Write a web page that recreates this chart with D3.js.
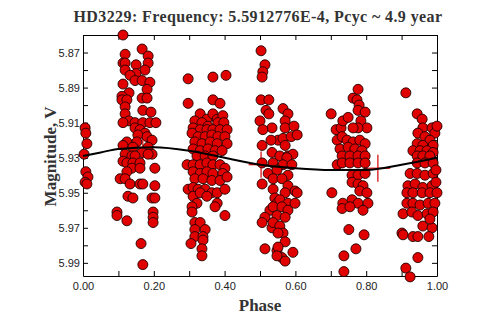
<!DOCTYPE html>
<html>
<head>
<meta charset="utf-8">
<script src="https://cdn.jsdelivr.net/npm/d3@7"></script>
<style>
	html, body { margin: 0; padding: 0; background: #fff; }
	svg { display: block; }
	.tick text { font-family: "Liberation Sans", Arial, sans-serif; font-size: 11px; fill: #222; }
	.domain, .tick line { stroke: #000; }
</style>
</head>
<body>
<script>
// phase-folded V photometry, grouped by the phase columns they fall in
var obsA = [[.006,5.913],[.008,5.916],[.011,5.922],[.003,5.928],[.008,5.938],[.014,5.941],[.006,5.944],[.011,5.945]];

var obsB = [[.113,5.860],[.119,5.871],[.113,5.876],[.119,5.876],[.119,5.880],[.150,5.877],[.167,5.868],[.184,5.872],
	[.184,5.876],[.175,5.880],[.150,5.882],[.133,5.883],[.147,5.886],[.167,5.886],[.189,5.887],[.113,5.888],[.181,5.891],
	[.130,5.893],[.110,5.895],[.110,5.897],[.124,5.897],[.167,5.896],[.181,5.896],[.119,5.901],[.119,5.905],[.169,5.903],
	[.192,5.904],[.130,5.909],[.113,5.910],[.147,5.910],[.169,5.910],[.189,5.910],[.206,5.910],[.147,5.913],[.161,5.914],
	[.175,5.916],[.155,5.917],[.181,5.918],[.124,5.921],[.152,5.921],[.195,5.920],[.113,5.923],[.141,5.924],[.184,5.924],
	[.167,5.927],[.119,5.928],[.138,5.929],[.195,5.928],[.147,5.929],[.184,5.928],[.113,5.932],[.124,5.933],[.141,5.933],
	[.161,5.933],[.138,5.936],[.161,5.936],[.124,5.938],[.105,5.942],[.119,5.942],[.133,5.945],[.161,5.945],[.169,5.945],
	[.203,5.936],[.203,5.946],[.127,5.952],[.141,5.953],[.195,5.953],[.203,5.953],[.096,5.961],[.096,5.963],[.124,5.966],
	[.198,5.961],[.198,5.964],[.198,5.967],[.164,5.979],[.169,5.991]];

var obsC = [[.297,5.885],[.297,5.899],[.367,5.884],[.404,5.883],[.367,5.897],[.387,5.899],[.331,5.905],[.350,5.908],
	[.367,5.905],[.379,5.908],[.395,5.906],[.316,5.909],[.336,5.910],[.353,5.912],[.381,5.910],[.398,5.910],[.311,5.913],
	[.331,5.914],[.350,5.914],[.367,5.914],[.387,5.914],[.407,5.914],[.308,5.916],[.325,5.918],[.345,5.918],[.364,5.917],
	[.381,5.918],[.401,5.918],[.316,5.921],[.336,5.922],[.359,5.921],[.379,5.922],[.407,5.922],[.311,5.925],[.331,5.926],
	[.353,5.925],[.373,5.926],[.393,5.926],[.322,5.929],[.345,5.929],[.367,5.929],[.294,5.934],[.311,5.934],[.331,5.934],
	[.350,5.933],[.367,5.934],[.387,5.934],[.401,5.936],[.311,5.938],[.331,5.939],[.350,5.938],[.367,5.939],[.395,5.939],
	[.316,5.942],[.339,5.942],[.364,5.943],[.387,5.943],[.407,5.941],[.297,5.948],[.311,5.947],[.325,5.948],[.345,5.948],
	[.364,5.950],[.379,5.950],[.401,5.948],[.311,5.952],[.331,5.950],[.350,5.952],[.322,5.956],[.308,5.958],[.308,5.961],
	[.379,5.956],[.373,5.958],[.401,5.963],[.316,5.967],[.331,5.967],[.316,5.971],[.345,5.971],[.316,5.975],[.339,5.975],
	[.339,5.977],[.305,5.979],[.336,5.982],[.336,5.986]];

var obsD = [[.503,5.869],[.514,5.877],[.508,5.881],[.506,5.884],[.503,5.897],[.525,5.897],[.517,5.903],[.525,5.905],
	[.500,5.909],[.534,5.913],[.508,5.914],[.551,5.920],[.531,5.920],[.506,5.923],[.534,5.927],[.565,5.902],[.579,5.905],
	[.571,5.909],[.571,5.913],[.596,5.912],[.565,5.919],[.588,5.918],[.605,5.917],[.571,5.923],[.556,5.929],[.579,5.929],
	[.593,5.928],[.506,5.933],[.537,5.933],[.523,5.939],[.506,5.945],[.537,5.948],[.542,5.953],[.548,5.956],[.528,5.960],
	[.514,5.964],[.506,5.967],[.534,5.970],[.514,5.982],[.548,5.983],[.576,5.930],[.565,5.934],[.590,5.934],[.548,5.937],
	[.579,5.940],[.537,5.942],[.562,5.942],[.579,5.946],[.599,5.949],[.571,5.950],[.605,5.950],[.556,5.954],[.579,5.956],
	[.599,5.956],[.537,5.958],[.562,5.958],[.579,5.960],[.548,5.963],[.571,5.964],[.537,5.967],[.556,5.969],[.565,5.973],
	[.551,5.973],[.571,5.978],[.551,5.981],[.593,5.984],[.562,5.987],[.571,5.989],[.548,5.986]];

var obsE = [[.701,5.905],[.715,5.914],[.729,5.913],[.734,5.909],[.749,5.907],[.777,5.891],[.763,5.896],[.774,5.897],
	[.780,5.900],[.777,5.903],[.797,5.904],[.785,5.909],[.802,5.913],[.777,5.913],[.763,5.913],[.718,5.920],[.732,5.918],
	[.746,5.920],[.763,5.921],[.782,5.920],[.797,5.922],[.726,5.925],[.749,5.924],[.768,5.925],[.788,5.926],[.732,5.929],
	[.754,5.929],[.777,5.929],[.797,5.929],[.718,5.934],[.732,5.933],[.754,5.933],[.777,5.933],[.797,5.933],[.760,5.940],
	[.777,5.940],[.797,5.939],[.760,5.944],[.777,5.945],[.791,5.946],[.782,5.949],[.802,5.950],[.734,5.956],[.760,5.954],
	[.777,5.956],[.805,5.956],[.732,5.959],[.754,5.958],[.791,5.960],[.703,5.950],[.751,5.971],[.794,5.974],[.771,5.982],
	[.737,5.986],[.737,5.995]];

var obsF = [[.912,5.893],[.944,5.905],[.958,5.908],[.960,5.913],[.986,5.913],[.946,5.916],[.966,5.918],[.994,5.916],
	[.980,5.920],[.944,5.922],[.960,5.923],[.989,5.923],[.932,5.926],[.952,5.926],[.972,5.926],[.989,5.927],[.944,5.929],
	[.960,5.929],[.980,5.929],[.944,5.933],[.966,5.933],[.989,5.933],[.924,5.939],[.944,5.939],[.966,5.940],[.989,5.939],
	[.918,5.946],[.938,5.945],[.960,5.947],[.986,5.946],[.915,5.950],[.932,5.950],[.958,5.950],[.980,5.950],[1.000,5.950],
	[.915,5.956],[.932,5.956],[.952,5.957],[.975,5.956],[.994,5.956],[.904,5.962],[.929,5.961],[.946,5.963],[.972,5.962],
	[.989,5.961],[.960,5.969],[.986,5.970],[.980,5.965],[.901,5.973],[.904,5.974],[.932,5.975],[.946,5.975],[.977,5.975],
	[.946,5.987],[.912,5.993],[.924,5.998],[1.000,5.912],[.997,5.937],[.997,5.944]];

// fitted cycle curve
var fitPhase = [0, 0.05, 0.1, 0.2, 0.3, 0.4, 0.5, 0.6, 0.7, 0.8, 0.9, 1.0];
var fitMag = [5.929, 5.927, 5.925, 5.924, 5.926, 5.930, 5.934, 5.936, 5.937, 5.937, 5.934, 5.930];

// binned means with errors
var binPhase = [0.169, 0.503, 0.833];
var binMag = [5.924, 5.934, 5.936];
var binErr = [0.0077, 0.0075, 0.0077];
var binHalf = [0.035, 0.035, 0.035];

var xTicks = [0, 0.1, 0.2, 0.3, 0.4, 0.5, 0.6, 0.7, 0.8, 0.9, 1.0];
var yTicks = [5.86, 5.87, 5.88, 5.89, 5.90, 5.91, 5.92, 5.93, 5.94, 5.95, 5.96, 5.97, 5.98, 5.99];
var yLabels = [5.87, 5.89, 5.91, 5.93, 5.95, 5.97, 5.99];

var W = 499, H = 322;
var margin = {top: 35, right: 62, bottom: 46, left: 83};
var innerW = W - margin.left - margin.right;
var innerH = H - margin.top - margin.bottom;

var svg = d3.select("body").append("svg").attr("width", W).attr("height", H);
var g = svg.append("g").attr("transform", "translate(" + margin.left + "," + margin.top + ")");

var x = d3.scaleLinear().domain([0, 1]).range([0, innerW]);
var y = d3.scaleLinear().domain([5.86, 5.9975]).range([0, innerH]);

var fmtX = function(d){ return (Math.round(d * 10) % 2 === 0) ? d3.format(".2f")(d) : ""; };
var fmtY = function(d){
	for (var i = 0; i < yLabels.length; i++) { if (Math.abs(yLabels[i] - d) < 1e-6) return d3.format(".2f")(d); }
	return "";
};

// axes, ticks pointing inward on all four sides
g.append("g").attr("transform", "translate(0," + innerH + ")")
	.call(d3.axisBottom(x).tickValues(xTicks).tickFormat(fmtX).tickSizeInner(-5).tickSizeOuter(0).tickPadding(6));
g.append("g")
	.call(d3.axisTop(x).tickValues(xTicks).tickFormat("").tickSizeInner(-5).tickSizeOuter(0));
g.append("g")
	.call(d3.axisLeft(y).tickValues(yTicks.slice(1)).tickFormat(fmtY).tickSizeInner(-5).tickSizeOuter(0).tickPadding(3));
g.append("g").attr("transform", "translate(" + innerW + ",0)")
	.call(d3.axisRight(y).tickValues(yTicks.slice(1)).tickFormat("").tickSizeInner(-5).tickSizeOuter(0));
g.selectAll(".tick text").attr("fill", "#222");

// error crosses sit under the points
var bins = binPhase.map(function(p, i){ return {p: p, m: binMag[i], e: binErr[i], h: binHalf[i]}; });
var cross = g.append("g").attr("class", "bins").attr("stroke", "#d40000").attr("stroke-width", 1.2);
cross.selectAll(".ev").data(bins).enter().append("line")
	.attr("x1", function(d){ return x(d.p); }).attr("x2", function(d){ return x(d.p); })
	.attr("y1", function(d){ return y(d.m - d.e); }).attr("y2", function(d){ return y(d.m + d.e); });
cross.selectAll(".eh").data(bins).enter().append("line")
	.attr("x1", function(d){ return x(d.p - d.h); }).attr("x2", function(d){ return x(d.p + d.h); })
	.attr("y1", function(d){ return y(d.m); }).attr("y2", function(d){ return y(d.m); });

var allObs = [].concat(obsA, obsB, obsC, obsD, obsE, obsF);
g.append("g").selectAll("circle").data(allObs).enter().append("circle")
	.attr("cx", function(d){ return x(d[0]); })
	.attr("cy", function(d){ return y(d[1]); })
	.attr("r", 5)
	.attr("fill", "#e10000")
	.attr("stroke", "#200000")
	.attr("stroke-width", 0.9);

var fit = fitPhase.map(function(p, i){ return [p, fitMag[i]]; });
g.append("path").datum(fit)
	.attr("fill", "none").attr("stroke", "#000").attr("stroke-width", 2)
	.attr("d", d3.line().curve(d3.curveMonotoneX)
		.x(function(d){ return x(d[0]); }).y(function(d){ return y(d[1]); }));

// titles
svg.append("text").attr("x", 258).attr("y", 22).attr("text-anchor", "middle")
	.attr("font-family", "'Liberation Serif', 'Times New Roman', serif").attr("font-weight", "bold")
	.attr("font-size", "16px").attr("letter-spacing", "0.4px").attr("fill", "#333")
	.text("HD3229: Frequency: 5.5912776E-4, Pcyc ~ 4.9 year");
svg.append("text").attr("x", margin.left + innerW / 2).attr("y", 311).attr("text-anchor", "middle")
	.attr("font-family", "'Liberation Serif', 'Times New Roman', serif").attr("font-weight", "bold")
	.attr("font-size", "17px").attr("fill", "#333").text("Phase");
svg.append("text").attr("transform", "translate(56," + (margin.top + innerH / 2 + 1) + ") rotate(-90)")
	.attr("text-anchor", "middle")
	.attr("font-family", "'Liberation Serif', 'Times New Roman', serif").attr("font-weight", "bold")
	.attr("font-size", "17px").attr("fill", "#333").text("Magnitude, V");
</script>
</body>
</html>
